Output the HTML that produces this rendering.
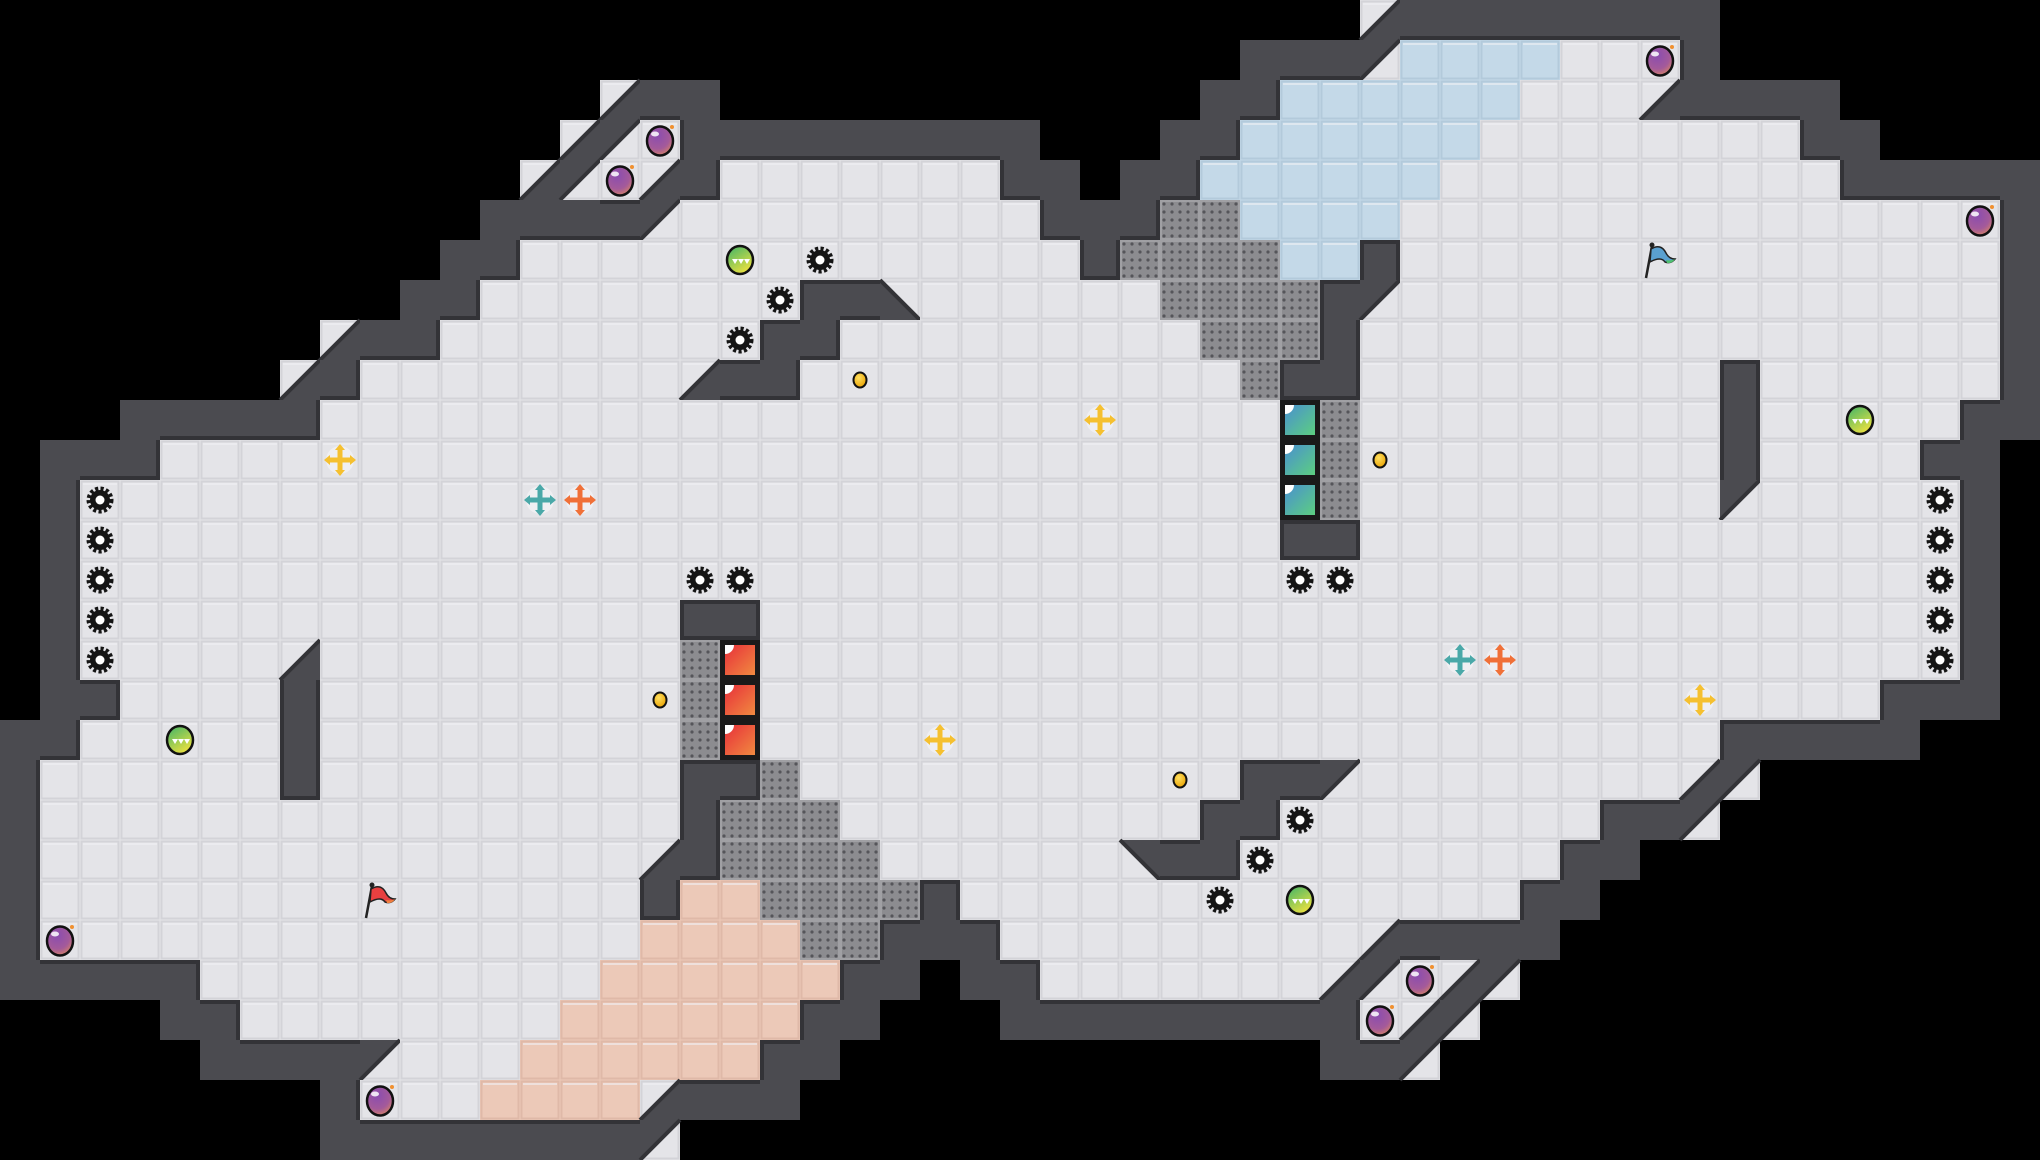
<!DOCTYPE html>
<html><head><meta charset="utf-8">
<style>
html,body{margin:0;padding:0;background:#000;}
body{width:2040px;height:1160px;overflow:hidden;}
svg{display:block;}
</style></head>
<body>
<svg id="m" xmlns="http://www.w3.org/2000/svg" width="2040" height="1160" viewBox="0 0 2040 1160">
<defs>
<pattern id="dots" width="8" height="8" patternUnits="userSpaceOnUse"><rect width="8" height="8" fill="#8c8c90"/><circle cx="4" cy="4" r="1.6" fill="#55555a"/></pattern>
<radialGradient id="bombG" cx="0.4" cy="0.3" r="0.8"><stop offset="0" stop-color="#8a4cb0"/><stop offset="0.6" stop-color="#a45a9a"/><stop offset="1" stop-color="#e08a5a"/></radialGradient>
<linearGradient id="greenG" x1="0" y1="0" x2="0.6" y2="1"><stop offset="0" stop-color="#3cb36a"/><stop offset="1" stop-color="#e8e040"/></linearGradient>
<linearGradient id="redG" x1="0" y1="0" x2="1" y2="1"><stop offset="0" stop-color="#e8303a"/><stop offset="1" stop-color="#f08a40"/></linearGradient>
<linearGradient id="tealG" x1="0" y1="0" x2="1" y2="1"><stop offset="0" stop-color="#4a90d0"/><stop offset="1" stop-color="#5ccf80"/></linearGradient>
<radialGradient id="coinG" cx="0.4" cy="0.35" r="0.7"><stop offset="0" stop-color="#ffe060"/><stop offset="1" stop-color="#e8a000"/></radialGradient>
</defs>
<g id="tiles"></g>
<g id="items"></g>
</svg>
<script>
var rows=[
[[34,34,'1'],[35,42,'#']],
[[31,33,'#'],[34,34,'2'],[35,38,'b'],[39,41,'.'],[42,42,'#']],
[[15,15,'1'],[16,17,'#'],[30,31,'#'],[32,37,'b'],[38,40,'.'],[41,41,'1'],[42,45,'#']],
[[14,14,'1'],[15,15,'2'],[16,16,'.'],[17,25,'#'],[29,30,'#'],[31,36,'b'],[37,44,'.'],[45,46,'#']],
[[13,13,'1'],[14,14,'2'],[15,15,'.'],[16,16,'1'],[17,17,'#'],[18,24,'.'],[25,26,'#'],[28,29,'#'],[30,35,'b'],[36,45,'.'],[46,50,'#']],
[[12,15,'#'],[16,16,'2'],[17,25,'.'],[26,28,'#'],[29,30,'g'],[31,34,'b'],[35,49,'.'],[50,50,'#']],
[[11,12,'#'],[13,26,'.'],[27,27,'#'],[28,31,'g'],[32,33,'b'],[34,34,'#'],[35,49,'.'],[50,50,'#']],
[[10,11,'#'],[12,19,'.'],[20,21,'#'],[22,22,'3'],[23,28,'.'],[29,32,'g'],[33,33,'#'],[34,34,'2'],[35,49,'.'],[50,50,'#']],
[[8,8,'1'],[9,10,'#'],[11,18,'.'],[19,20,'#'],[21,29,'.'],[30,32,'g'],[33,33,'#'],[34,49,'.'],[50,50,'#']],
[[7,7,'1'],[8,8,'#'],[9,16,'.'],[17,17,'1'],[18,19,'#'],[20,30,'.'],[31,31,'g'],[32,33,'#'],[34,42,'.'],[43,43,'#'],[44,49,'.'],[50,50,'#']],
[[3,7,'#'],[8,31,'.'],[32,32,'T'],[33,33,'g'],[34,42,'.'],[43,43,'#'],[44,48,'.'],[49,50,'#']],
[[1,3,'#'],[4,31,'.'],[32,32,'T'],[33,33,'g'],[34,42,'.'],[43,43,'#'],[44,47,'.'],[48,49,'#']],
[[1,1,'#'],[2,31,'.'],[32,32,'T'],[33,33,'g'],[34,42,'.'],[43,43,'2'],[44,48,'.'],[49,49,'#']],
[[1,1,'#'],[2,31,'.'],[32,33,'#'],[34,48,'.'],[49,49,'#']],
[[1,1,'#'],[2,48,'.'],[49,49,'#']],
[[1,1,'#'],[2,16,'.'],[17,18,'#'],[19,48,'.'],[49,49,'#']],
[[1,1,'#'],[2,6,'.'],[7,7,'1'],[8,16,'.'],[17,17,'g'],[18,18,'R'],[19,48,'.'],[49,49,'#']],
[[1,2,'#'],[3,6,'.'],[7,7,'#'],[8,16,'.'],[17,17,'g'],[18,18,'R'],[19,46,'.'],[47,49,'#']],
[[0,1,'#'],[2,6,'.'],[7,7,'#'],[8,16,'.'],[17,17,'g'],[18,18,'R'],[19,42,'.'],[43,47,'#']],
[[0,0,'#'],[1,6,'.'],[7,7,'#'],[8,16,'.'],[17,18,'#'],[19,19,'g'],[20,30,'.'],[31,32,'#'],[33,33,'2'],[34,41,'.'],[42,42,'1'],[43,43,'2']],
[[0,0,'#'],[1,16,'.'],[17,17,'#'],[18,20,'g'],[21,29,'.'],[30,31,'#'],[32,39,'.'],[40,41,'#'],[42,42,'2']],
[[0,0,'#'],[1,15,'.'],[16,16,'1'],[17,17,'#'],[18,21,'g'],[22,27,'.'],[28,28,'4'],[29,30,'#'],[31,38,'.'],[39,40,'#']],
[[0,0,'#'],[1,15,'.'],[16,16,'#'],[17,18,'p'],[19,22,'g'],[23,23,'#'],[24,37,'.'],[38,39,'#']],
[[0,0,'#'],[1,15,'.'],[16,19,'p'],[20,21,'g'],[22,24,'#'],[25,33,'.'],[34,34,'1'],[35,38,'#']],
[[0,4,'#'],[5,14,'.'],[15,20,'p'],[21,22,'#'],[24,25,'#'],[26,32,'.'],[33,33,'1'],[34,34,'2'],[35,35,'.'],[36,36,'1'],[37,37,'2']],
[[4,5,'#'],[6,13,'.'],[14,19,'p'],[20,21,'#'],[25,33,'#'],[34,34,'.'],[35,35,'1'],[36,36,'2']],
[[5,8,'#'],[9,9,'2'],[10,12,'.'],[13,18,'p'],[19,20,'#'],[33,34,'#'],[35,35,'2']],
[[8,8,'#'],[9,11,'.'],[12,15,'p'],[16,16,'1'],[17,19,'#']],
[[8,15,'#'],[16,16,'2']]
];
var T=document.getElementById('tiles'),I=document.getElementById('items');
var s='';
var WALL='#4b4b50',EDGE='#333337';
function floor(x,y,col){
  return '<rect x="'+x+'" y="'+y+'" width="40" height="40" fill="'+col+'"/>'+
  '<rect x="'+(x+1.5)+'" y="'+(y+1.5)+'" width="37" height="37" fill="none" stroke="'+(col=='#e4e4e8'?'#d3d3d8':(col=='#c4d9e8'?'#b3cadb':'#dfb9a8'))+'" stroke-width="2"/>'+
  '<rect x="'+(x+3)+'" y="'+(y+3)+'" width="34" height="2" fill="#f0f0f3" opacity="0.6"/>';
}
for(var r=0;r<rows.length;r++){
  rows[r].forEach(function(seg){
    for(var c=seg[0];c<=seg[1];c++){
      var x=c*40,y=r*40,t=seg[2];
      if(t=='.')s+=floor(x,y,'#e4e4e8');
      else if(t=='b')s+=floor(x,y,'#c4d9e8');
      else if(t=='p')s+=floor(x,y,'#ecc9b8');
      else if(t=='g')s+='<rect x="'+x+'" y="'+y+'" width="40" height="40" fill="url(#dots)"/><rect x="'+(x+1)+'" y="'+(y+1)+'" width="38" height="38" fill="none" stroke="#a0a0a4" stroke-width="2"/>';
      else if(t=='#')s+='<rect x="'+x+'" y="'+y+'" width="40" height="40" fill="'+WALL+'"/>';
      else if(t=='R'||t=='T'){
        s+='<rect x="'+x+'" y="'+y+'" width="40" height="40" fill="#1a1a1a"/><rect x="'+(x+5)+'" y="'+(y+5)+'" width="30" height="30" fill="url(#'+(t=='R'?'redG':'tealG')+')"/><path d="M'+(x+5)+' '+(y+5)+'h9a9 9 0 0 1-9 9z" fill="#fff"/>';
      }
      else {
        s+=floor(x,y,'#e4e4e8');
        var p,l;
        if(t=='1'){p=[[x+40,y],[x+40,y+40],[x,y+40]];l=[[x+40,y],[x,y+40]];}
        else if(t=='2'){p=[[x,y],[x+40,y],[x,y+40]];l=[[x+40,y],[x,y+40]];}
        else if(t=='3'){p=[[x,y],[x+40,y+40],[x,y+40]];l=[[x,y],[x+40,y+40]];}
        else {p=[[x,y],[x+40,y],[x+40,y+40]];l=[[x,y],[x+40,y+40]];}
        s+='<polygon points="'+p.join(' ')+'" fill="'+WALL+'"/><line x1="'+l[0][0]+'" y1="'+l[0][1]+'" x2="'+l[1][0]+'" y2="'+l[1][1]+'" stroke="'+EDGE+'" stroke-width="4"/>';
      }
    }
  });
}
T.innerHTML=s;
var grid=[];
for(var r=0;r<29;r++){grid[r]=[];for(var c=0;c<51;c++)grid[r][c]=' ';rows[r].forEach(function(sg){for(var c=sg[0];c<=sg[1];c++)grid[r][c]=sg[2];});}
function isFloor(r,c){if(r<0||r>28||c<0||c>50)return false;var t=grid[r][c];return '.bpgRT'.indexOf(t)>=0;}
var e='';
for(var r=0;r<29;r++)for(var c=0;c<51;c++){
  if(grid[r][c]!='#')continue;var x=c*40,y=r*40;
  if(isFloor(r-1,c))e+='<rect x="'+x+'" y="'+y+'" width="40" height="4" fill="'+EDGE+'"/>';
  if(isFloor(r+1,c))e+='<rect x="'+x+'" y="'+(y+36)+'" width="40" height="4" fill="'+EDGE+'"/>';
  if(isFloor(r,c-1))e+='<rect x="'+x+'" y="'+y+'" width="4" height="40" fill="'+EDGE+'"/>';
  if(isFloor(r,c+1))e+='<rect x="'+(x+36)+'" y="'+y+'" width="4" height="40" fill="'+EDGE+'"/>';
}
var it='';
function C(c,r){return [c*40+20,r*40+20];}
function gear(c,r){var p=C(c,r);it+='<circle cx="'+p[0]+'" cy="'+p[1]+'" r="11" fill="none" stroke="#151515" stroke-width="5" stroke-dasharray="3 2.2"/><circle cx="'+p[0]+'" cy="'+p[1]+'" r="10" fill="#151515"/><circle cx="'+p[0]+'" cy="'+p[1]+'" r="4.5" fill="#fff"/>';}
function bomb(c,r){var p=C(c,r);it+='<ellipse cx="'+p[0]+'" cy="'+(p[1]+1)+'" rx="13" ry="14.5" fill="url(#bombG)" stroke="#111" stroke-width="2.5"/><ellipse cx="'+(p[0]-5)+'" cy="'+(p[1]-6)+'" rx="4" ry="2.5" fill="#fff" opacity="0.85"/><circle cx="'+(p[0]+12)+'" cy="'+(p[1]-13)+'" r="2" fill="#f09030"/>';}
function green(c,r){var p=C(c,r);it+='<ellipse cx="'+p[0]+'" cy="'+p[1]+'" rx="13" ry="14" fill="url(#greenG)" stroke="#111" stroke-width="2.5"/><path d="M'+(p[0]-8)+' '+(p[1]-1)+'l3 5l3-5l3 5l3-5l3 5l3-5z" fill="#fff"/>';}
function coin(c,r){var p=C(c,r);it+='<ellipse cx="'+p[0]+'" cy="'+p[1]+'" rx="6.5" ry="7.5" fill="url(#coinG)" stroke="#111" stroke-width="2"/>';}
function cross(c,r,col){var p=C(c,r),x=p[0],y=p[1];it+='<circle cx="'+x+'" cy="'+y+'" r="14" fill="#f4f4f6" opacity="0.7"/><g fill="'+col+'"><rect x="'+(x-2.5)+'" y="'+(y-12)+'" width="5" height="24"/><rect x="'+(x-12)+'" y="'+(y-2.5)+'" width="24" height="5"/><path d="M'+x+' '+(y-16)+'l5 6h-10z M'+x+' '+(y+16)+'l5-6h-10z M'+(x-16)+' '+y+'l6 5v-10z M'+(x+16)+' '+y+'l-6 5v-10z"/></g>';}
function flag(c,r,col,col2){var x=c*40,y=r*40;it+='<line x1="'+(x+6)+'" y1="'+(y+38)+'" x2="'+(x+12)+'" y2="'+(y+6)+'" stroke="#222" stroke-width="2.5"/><circle cx="'+(x+12)+'" cy="'+(y+5)+'" r="2.5" fill="#222"/><path d="M'+(x+11)+' '+(y+9)+'q10-6 15 4q3 6 9 6q-4 5-10 3q-4-6-15 0z" fill="'+col+'" stroke="#222" stroke-width="1.5"/><path d="M'+(x+26)+' '+(y+20)+'q5 1 9-1q-3 5-8 4z" fill="'+col2+'"/>';}
[[20,6],[19,7],[18,8],[2,12],[2,13],[2,14],[2,15],[2,16],[17,14],[18,14],[32,14],[33,14],[48,12],[48,13],[48,14],[48,15],[48,16],[32,20],[31,21],[30,22]].forEach(function(a){gear(a[0],a[1]);});
[[16,3],[15,4],[41,1],[49,5],[1,23],[9,27],[35,24],[34,25]].forEach(function(a){bomb(a[0],a[1]);});
[[18,6],[46,10],[4,18],[32,22]].forEach(function(a){green(a[0],a[1]);});
[[21,9],[34,11],[16,17],[29,19]].forEach(function(a){coin(a[0],a[1]);});
cross(8,11,'#f5c030');cross(27,10,'#f5c030');cross(23,18,'#f5c030');cross(42,17,'#f5c030');
cross(13,12,'#4aa8a8');cross(14,12,'#f07038');cross(36,16,'#4aa8a8');cross(37,16,'#f07038');
flag(9,22,'#e84040','#f08040');flag(41,6,'#5aa0d0','#50c070');
I.innerHTML=e+it;
</script>
</body></html>
